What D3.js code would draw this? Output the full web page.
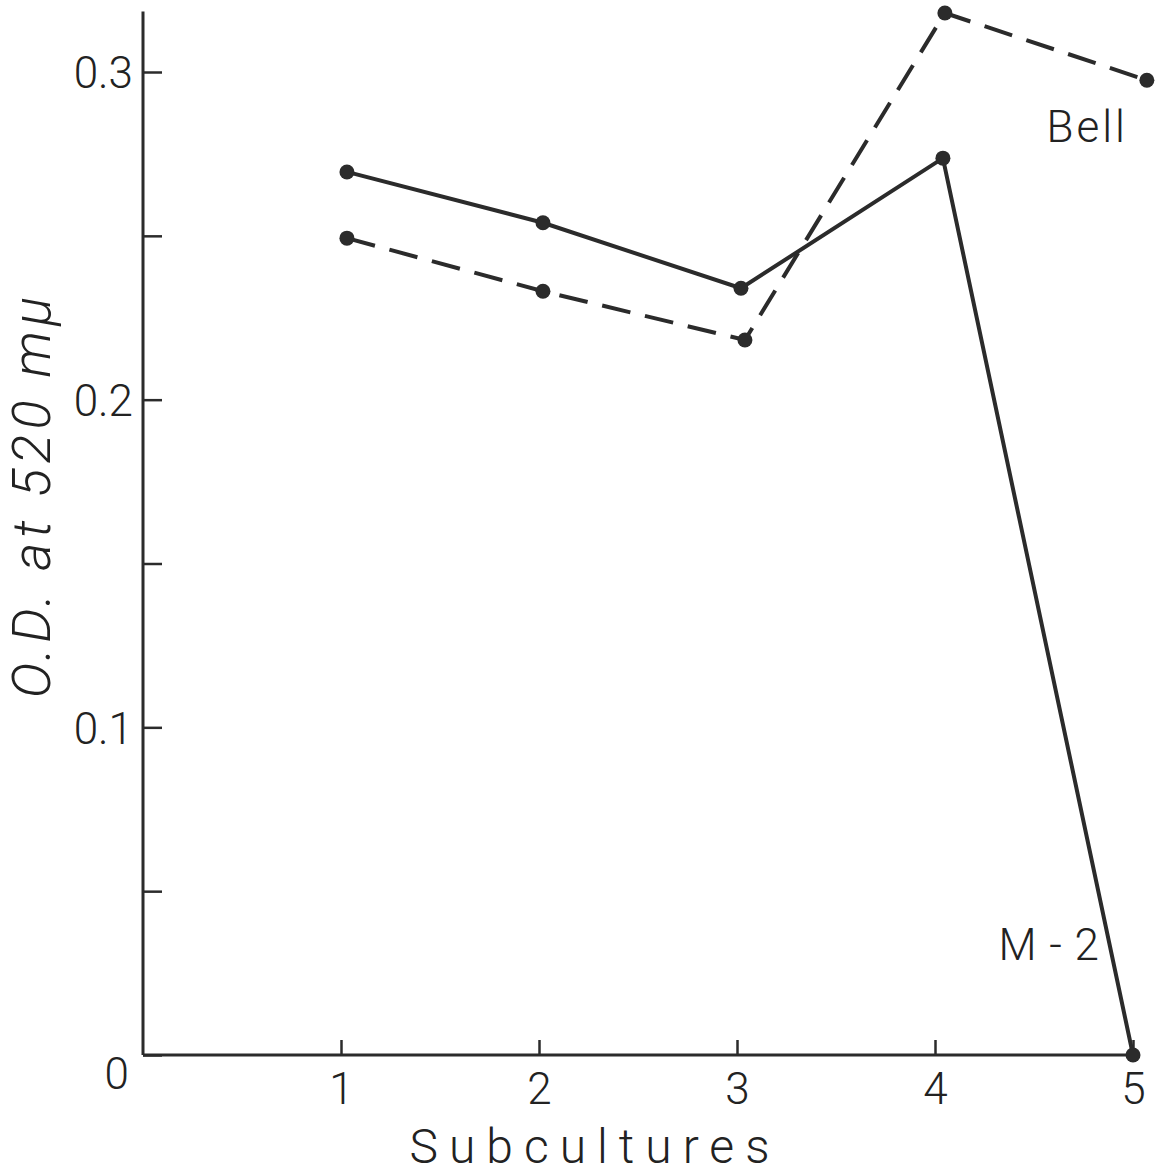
<!DOCTYPE html>
<html>
<head>
<meta charset="utf-8">
<script src="https://cdn.jsdelivr.net/npm/d3@7"></script>
<style>
  body { margin: 0; background: #fff; }
  text { font-family: Roboto, "DejaVu Sans", sans-serif; font-weight: 300; fill: #222; }
</style>
</head>
<body>
<div id="vis"></div>
<script>
var width = 1165;
var height = 1174;

// subculture number (read positions off the plot), and O.D. values
var m2X = [1.03, 2.02, 3.02, 4.04, 5.0];
var m2Y = [0.2695, 0.254, 0.234, 0.2737, 0.0];
var bellX = [1.03, 2.02, 3.04, 4.05, 5.07];
var bellY = [0.2493, 0.2331, 0.2182, 0.318, 0.2975];

var xTicks = [1, 2, 3, 4, 5];
var xTickLabels = ['1', '2', '3', '4', '5'];
var yTicks = [0, 0.05, 0.1, 0.15, 0.2, 0.25, 0.3];
var yTickLabels = { 0: '0', 0.1: '0.1', 0.2: '0.2', 0.3: '0.3' };

var x = d3.scaleLinear().domain([0, 5]).range([143, 1133]);
var y = d3.scaleLinear().domain([0, 0.3]).range([1055, 72]);

var svg = d3.select('#vis').append('svg')
  .attr('width', width)
  .attr('height', height);

var g = svg.append('g');
var ink = '#2b2b2b';

// axis lines
g.append('line')
  .attr('x1', x(0)).attr('x2', x(0))
  .attr('y1', y(0)).attr('y2', y(0.3185))
  .attr('stroke', ink).attr('stroke-width', 3);
g.append('line')
  .attr('x1', x(0)).attr('x2', x(5.03))
  .attr('y1', y(0)).attr('y2', y(0))
  .attr('stroke', ink).attr('stroke-width', 3);

// y axis ticks pointing inward
var yAxis = d3.axisLeft(y)
  .tickValues(yTicks)
  .tickSize(-19)
  .tickPadding(10)
  .tickFormat(function (d) { return yTickLabels[d] || ''; });

var ya = g.append('g')
  .attr('transform', 'translate(' + x(0) + ',0)')
  .call(yAxis);
ya.select('.domain').remove();
ya.selectAll('.tick line').attr('stroke', ink).attr('stroke-width', 2.5);
ya.selectAll('.tick text')
  .style('font-size', '44px')
  .attr('dy', function (d) { return d === 0 ? '0.75em' : '0.36em'; })
  .attr('dx', function (d) { return d === 0 ? '-4' : '0'; })
  .attr('fill', '#222');

// x axis ticks pointing inward
var xAxis = d3.axisBottom(x)
  .tickValues(xTicks)
  .tickSize(-15)
  .tickPadding(18)
  .tickFormat(function (d, i) { return xTickLabels[i]; });

var xa = g.append('g')
  .attr('transform', 'translate(0,' + y(0) + ')')
  .call(xAxis);
xa.select('.domain').remove();
xa.selectAll('.tick line').attr('stroke', ink).attr('stroke-width', 2.5);
xa.selectAll('.tick text')
  .style('font-size', '44px')
  .attr('dy', '0.71em')
  .attr('fill', '#222');

// axis titles
g.append('text')
  .attr('x', 595)
  .attr('y', 1163)
  .attr('text-anchor', 'middle')
  .style('font-size', '48px')
  .style('letter-spacing', '11px')
  .text('Subcultures');

g.append('text')
  .attr('transform', 'translate(50,' + 495 + ') rotate(-90)')
  .attr('text-anchor', 'middle')
  .style('font-size', '54px')
  .style('font-style', 'italic')
  .style('letter-spacing', '5px')
  .text('O.D. at 520 m\u03bc');

// series
var line = d3.line()
  .x(function (d) { return x(d[0]); })
  .y(function (d) { return y(d[1]); });

var m2 = d3.zip(m2X, m2Y);
var bell = d3.zip(bellX, bellY);

g.append('path')
  .datum(m2)
  .attr('d', line)
  .attr('fill', 'none')
  .attr('stroke', ink)
  .attr('stroke-width', 4);

g.append('path')
  .datum(bell)
  .attr('d', line)
  .attr('fill', 'none')
  .attr('stroke', ink)
  .attr('stroke-width', 4)
  .attr('stroke-dasharray', '29,15');

g.selectAll('.dot-m2')
  .data(m2)
  .enter().append('circle')
  .attr('class', 'dot-m2')
  .attr('cx', function (d) { return x(d[0]); })
  .attr('cy', function (d) { return y(d[1]); })
  .attr('r', 7.5)
  .attr('fill', ink);

g.selectAll('.dot-bell')
  .data(bell)
  .enter().append('circle')
  .attr('class', 'dot-bell')
  .attr('cx', function (d) { return x(d[0]); })
  .attr('cy', function (d) { return y(d[1]); })
  .attr('r', 7.5)
  .attr('fill', ink);

// series labels
g.append('text')
  .attr('x', 1128)
  .attr('y', 142)
  .attr('text-anchor', 'end')
  .style('font-size', '44px')
  .style('letter-spacing', '3px')
  .text('Bell');

g.append('text')
  .attr('x', 1100)
  .attr('y', 960)
  .attr('text-anchor', 'end')
  .style('font-size', '44px')
  .style('letter-spacing', '1px')
  .text('M - 2');
</script>
</body>
</html>
